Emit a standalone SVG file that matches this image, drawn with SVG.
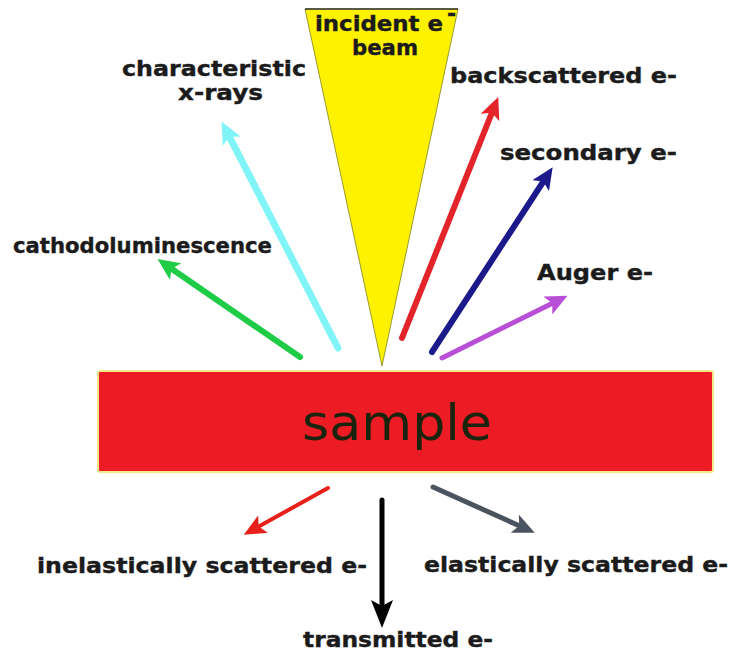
<svg xmlns="http://www.w3.org/2000/svg" width="733" height="658" viewBox="0 0 733 658">
  <style>
    .lbl { font-family: "DejaVu Sans", Verdana, sans-serif; font-weight: bold; font-size: 22px; fill: #1b1b1b; stroke: #1b1b1b; stroke-width: 0.4; }
    .arrow { fill: none; stroke-linecap: round; }
  </style>
  <defs>
    <!-- one arrowhead per colour, tip sits 14px beyond the line end -->
    <marker id="h-cyan" markerUnits="userSpaceOnUse" viewBox="0 0 22 20" markerWidth="22" markerHeight="20" refX="8" refY="10" orient="auto"><path d="M0,0 L22,10 L0,20 L5,10 z" fill="#80f4f6"/></marker>
    <marker id="h-green" markerUnits="userSpaceOnUse" viewBox="0 0 22 20" markerWidth="22" markerHeight="20" refX="8" refY="10" orient="auto"><path d="M0,0 L22,10 L0,20 L5,10 z" fill="#1fcc45"/></marker>
    <marker id="h-red" markerUnits="userSpaceOnUse" viewBox="0 0 22 20" markerWidth="22" markerHeight="20" refX="8" refY="10" orient="auto"><path d="M0,0 L22,10 L0,20 L5,10 z" fill="#e3242b"/></marker>
    <marker id="h-navy" markerUnits="userSpaceOnUse" viewBox="0 0 22 20" markerWidth="22" markerHeight="20" refX="8" refY="10" orient="auto"><path d="M0,0 L22,10 L0,20 L5,10 z" fill="#1c1a8a"/></marker>
    <marker id="h-magenta" markerUnits="userSpaceOnUse" viewBox="0 0 22 20" markerWidth="22" markerHeight="20" refX="8" refY="10" orient="auto"><path d="M0,0 L22,10 L0,20 L5,10 z" fill="#b84fd6"/></marker>
    <marker id="h-red2" markerUnits="userSpaceOnUse" viewBox="0 0 22 20" markerWidth="22" markerHeight="20" refX="8" refY="10" orient="auto"><path d="M0,0 L22,10 L0,20 L5,10 z" fill="#e8201c"/></marker>
    <marker id="h-black" markerUnits="userSpaceOnUse" viewBox="0 0 28 22" markerWidth="28" markerHeight="22" refX="10" refY="11" orient="auto"><path d="M0,0 L28,11 L0,22 L6,11 z" fill="#000"/></marker>
    <marker id="h-gray" markerUnits="userSpaceOnUse" viewBox="0 0 22 20" markerWidth="22" markerHeight="20" refX="8" refY="10" orient="auto"><path d="M0,0 L22,10 L0,20 L5,10 z" fill="#4b535e"/></marker>
  </defs>

  <rect width="733" height="658" fill="#ffffff"/>

  <!-- incident electron beam -->
  <g id="beam">
    <polygon points="305,9 458,9 382,366" fill="#fff200" stroke="#9a9a30" stroke-width="1"/>
    <line x1="305" y1="9" x2="458" y2="9" stroke="#333" stroke-width="1.5"/>
    <text class="lbl" x="315" y="31" textLength="128" lengthAdjust="spacingAndGlyphs">incident e</text>
    <text class="lbl" x="447" y="21" font-size="12">-</text>
    <text class="lbl" x="352" y="55" textLength="66" lengthAdjust="spacingAndGlyphs">beam</text>
  </g>

  <!-- sample slab -->
  <g id="sample">
    <rect x="98" y="371" width="615" height="101" rx="2" fill="#ed1c24" stroke="#f4e98a" stroke-width="2"/>
    <text x="397" y="440" text-anchor="middle" font-family="'DejaVu Sans', sans-serif" font-size="50" fill="#18240e" textLength="190" lengthAdjust="spacingAndGlyphs">sample</text>
  </g>

  <!-- emitted signals -->
  <g id="connectors">
    <line class="arrow" x1="338" y1="348" x2="228" y2="134" stroke="#80f4f6" stroke-width="7" marker-end="url(#h-cyan)"/>
    <line class="arrow" x1="300" y1="357" x2="169" y2="267" stroke="#1fcc45" stroke-width="6" marker-end="url(#h-green)"/>
    <line class="arrow" x1="402" y1="338" x2="493" y2="110" stroke="#e3242b" stroke-width="6" marker-end="url(#h-red)"/>
    <line class="arrow" x1="432" y1="352" x2="545" y2="179" stroke="#1c1a8a" stroke-width="6" marker-end="url(#h-navy)"/>
    <line class="arrow" x1="442" y1="358" x2="555" y2="302" stroke="#b84fd6" stroke-width="5" marker-end="url(#h-magenta)"/>
    <line class="arrow" x1="328" y1="488" x2="256" y2="528" stroke="#e8201c" stroke-width="4" marker-end="url(#h-red2)"/>
    <line class="arrow" x1="382" y1="500" x2="382" y2="610" stroke="#000000" stroke-width="5" marker-end="url(#h-black)"/>
    <line class="arrow" x1="433" y1="487" x2="522" y2="527" stroke="#4b535e" stroke-width="5" marker-end="url(#h-gray)"/>
  </g>

  <g id="characteristic-x-rays">
    <text class="lbl" x="122" y="76" textLength="184" lengthAdjust="spacingAndGlyphs">characteristic</text>
    <text class="lbl" x="178" y="100" textLength="85" lengthAdjust="spacingAndGlyphs">x-rays</text>
  </g>
  <g id="cathodoluminescence">
    <text class="lbl" x="13" y="253" textLength="259" lengthAdjust="spacingAndGlyphs">cathodoluminescence</text>
  </g>
  <g id="backscattered">
    <text class="lbl" x="450" y="83" textLength="227" lengthAdjust="spacingAndGlyphs">backscattered e-</text>
  </g>
  <g id="secondary">
    <text class="lbl" x="500" y="160" textLength="177" lengthAdjust="spacingAndGlyphs">secondary e-</text>
  </g>
  <g id="auger">
    <text class="lbl" x="537" y="280" textLength="116" lengthAdjust="spacingAndGlyphs">Auger e-</text>
  </g>
  <g id="inelastic">
    <text class="lbl" x="37" y="573" textLength="330" lengthAdjust="spacingAndGlyphs">inelastically scattered e-</text>
  </g>
  <g id="elastic">
    <text class="lbl" x="424" y="572" textLength="304" lengthAdjust="spacingAndGlyphs">elastically scattered e-</text>
  </g>
  <g id="transmitted">
    <text class="lbl" x="303" y="647" textLength="190" lengthAdjust="spacingAndGlyphs">transmitted e-</text>
  </g>
</svg>
